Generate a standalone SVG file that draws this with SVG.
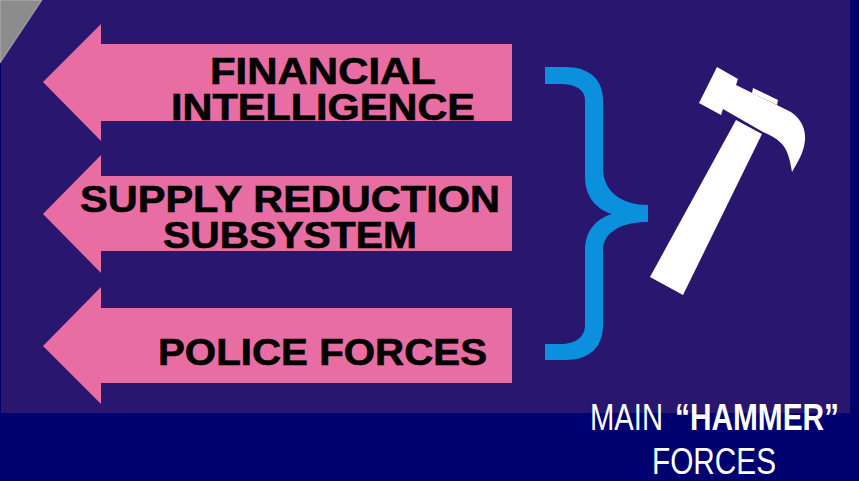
<svg xmlns="http://www.w3.org/2000/svg" width="859" height="481" viewBox="0 0 859 481">
<style>
.arrow{fill:#e86da2}
.lbl{font-family:"Liberation Sans",Arial,sans-serif;font-size:36px;font-weight:700;fill:#000;stroke:#000;stroke-width:.6px}
.cap{font-family:"Liberation Sans",Arial,sans-serif;font-size:36px;fill:#fff}
</style>
<rect id="background" width="859" height="481" fill="#000070"/>
<rect id="panel" x="1" y="0" width="849" height="413" fill="#29176f"/>
<polygon id="corner" points="0,0 42,0 0,63" fill="#8c8c8c" stroke="#c4c4c4" stroke-width="0.7"/>
<g id="node-financial">
<polygon class="arrow" points="43,82 101,24 101,44 512,44 512,121 101,121 101,141"/>
<text class="lbl" x="210" y="83.5" textLength="226" lengthAdjust="spacingAndGlyphs">FINANCIAL</text>
<text class="lbl" x="171" y="120" textLength="304" lengthAdjust="spacingAndGlyphs">INTELLIGENCE</text>
</g>
<g id="node-supply">
<polygon class="arrow" points="43,214 101,155 101,176 512,176 512,251 101,251 101,273"/>
<text class="lbl" x="80" y="212" textLength="420" lengthAdjust="spacingAndGlyphs">SUPPLY REDUCTION</text>
<text class="lbl" x="163" y="248" textLength="254" lengthAdjust="spacingAndGlyphs">SUBSYSTEM</text>
</g>
<g id="node-police">
<polygon class="arrow" points="43,346 101,287 101,308 512,308 512,383 101,383 101,404"/>
<text class="lbl" x="158" y="365" textLength="329" lengthAdjust="spacingAndGlyphs">POLICE FORCES</text>
</g>
<g id="connectors">
<path id="brace" fill="#0a90dc" d="M545,67H565C590,67 603,80 603,100V168C603,192 622,205 648,205V222C622,222 603,232 603,250V325C603,347 590,360 565,360H545V344H560C576,344 585,337 585,325V250C585,232 595,219 612,214C595,209 585,195 585,177V100C585,90 576,84 560,84H545Z"/>
</g>
<g id="node-hammer" fill="#fff">
<polygon points="650,277 736,120 762,134 683,295"/>
<path d="M717,67L738,79L736,85L787,110C800,116 806,128 805,140C804,153 797,163 792,172C790,160 788,150 781,143C776,138 770,135 763,132L723,109L721,115L699,103Z"/>
<polygon points="753,88 778,100 777,105 752,93"/>
</g>
<g id="node-caption">
<text class="cap" y="430"><tspan x="590" textLength="73" lengthAdjust="spacingAndGlyphs">MAIN</tspan><tspan x="675" textLength="164" lengthAdjust="spacingAndGlyphs" font-weight="700">“HAMMER”</tspan></text>
<text class="cap" x="652" y="474" textLength="124" lengthAdjust="spacingAndGlyphs">FORCES</text>
</g>
</svg>
